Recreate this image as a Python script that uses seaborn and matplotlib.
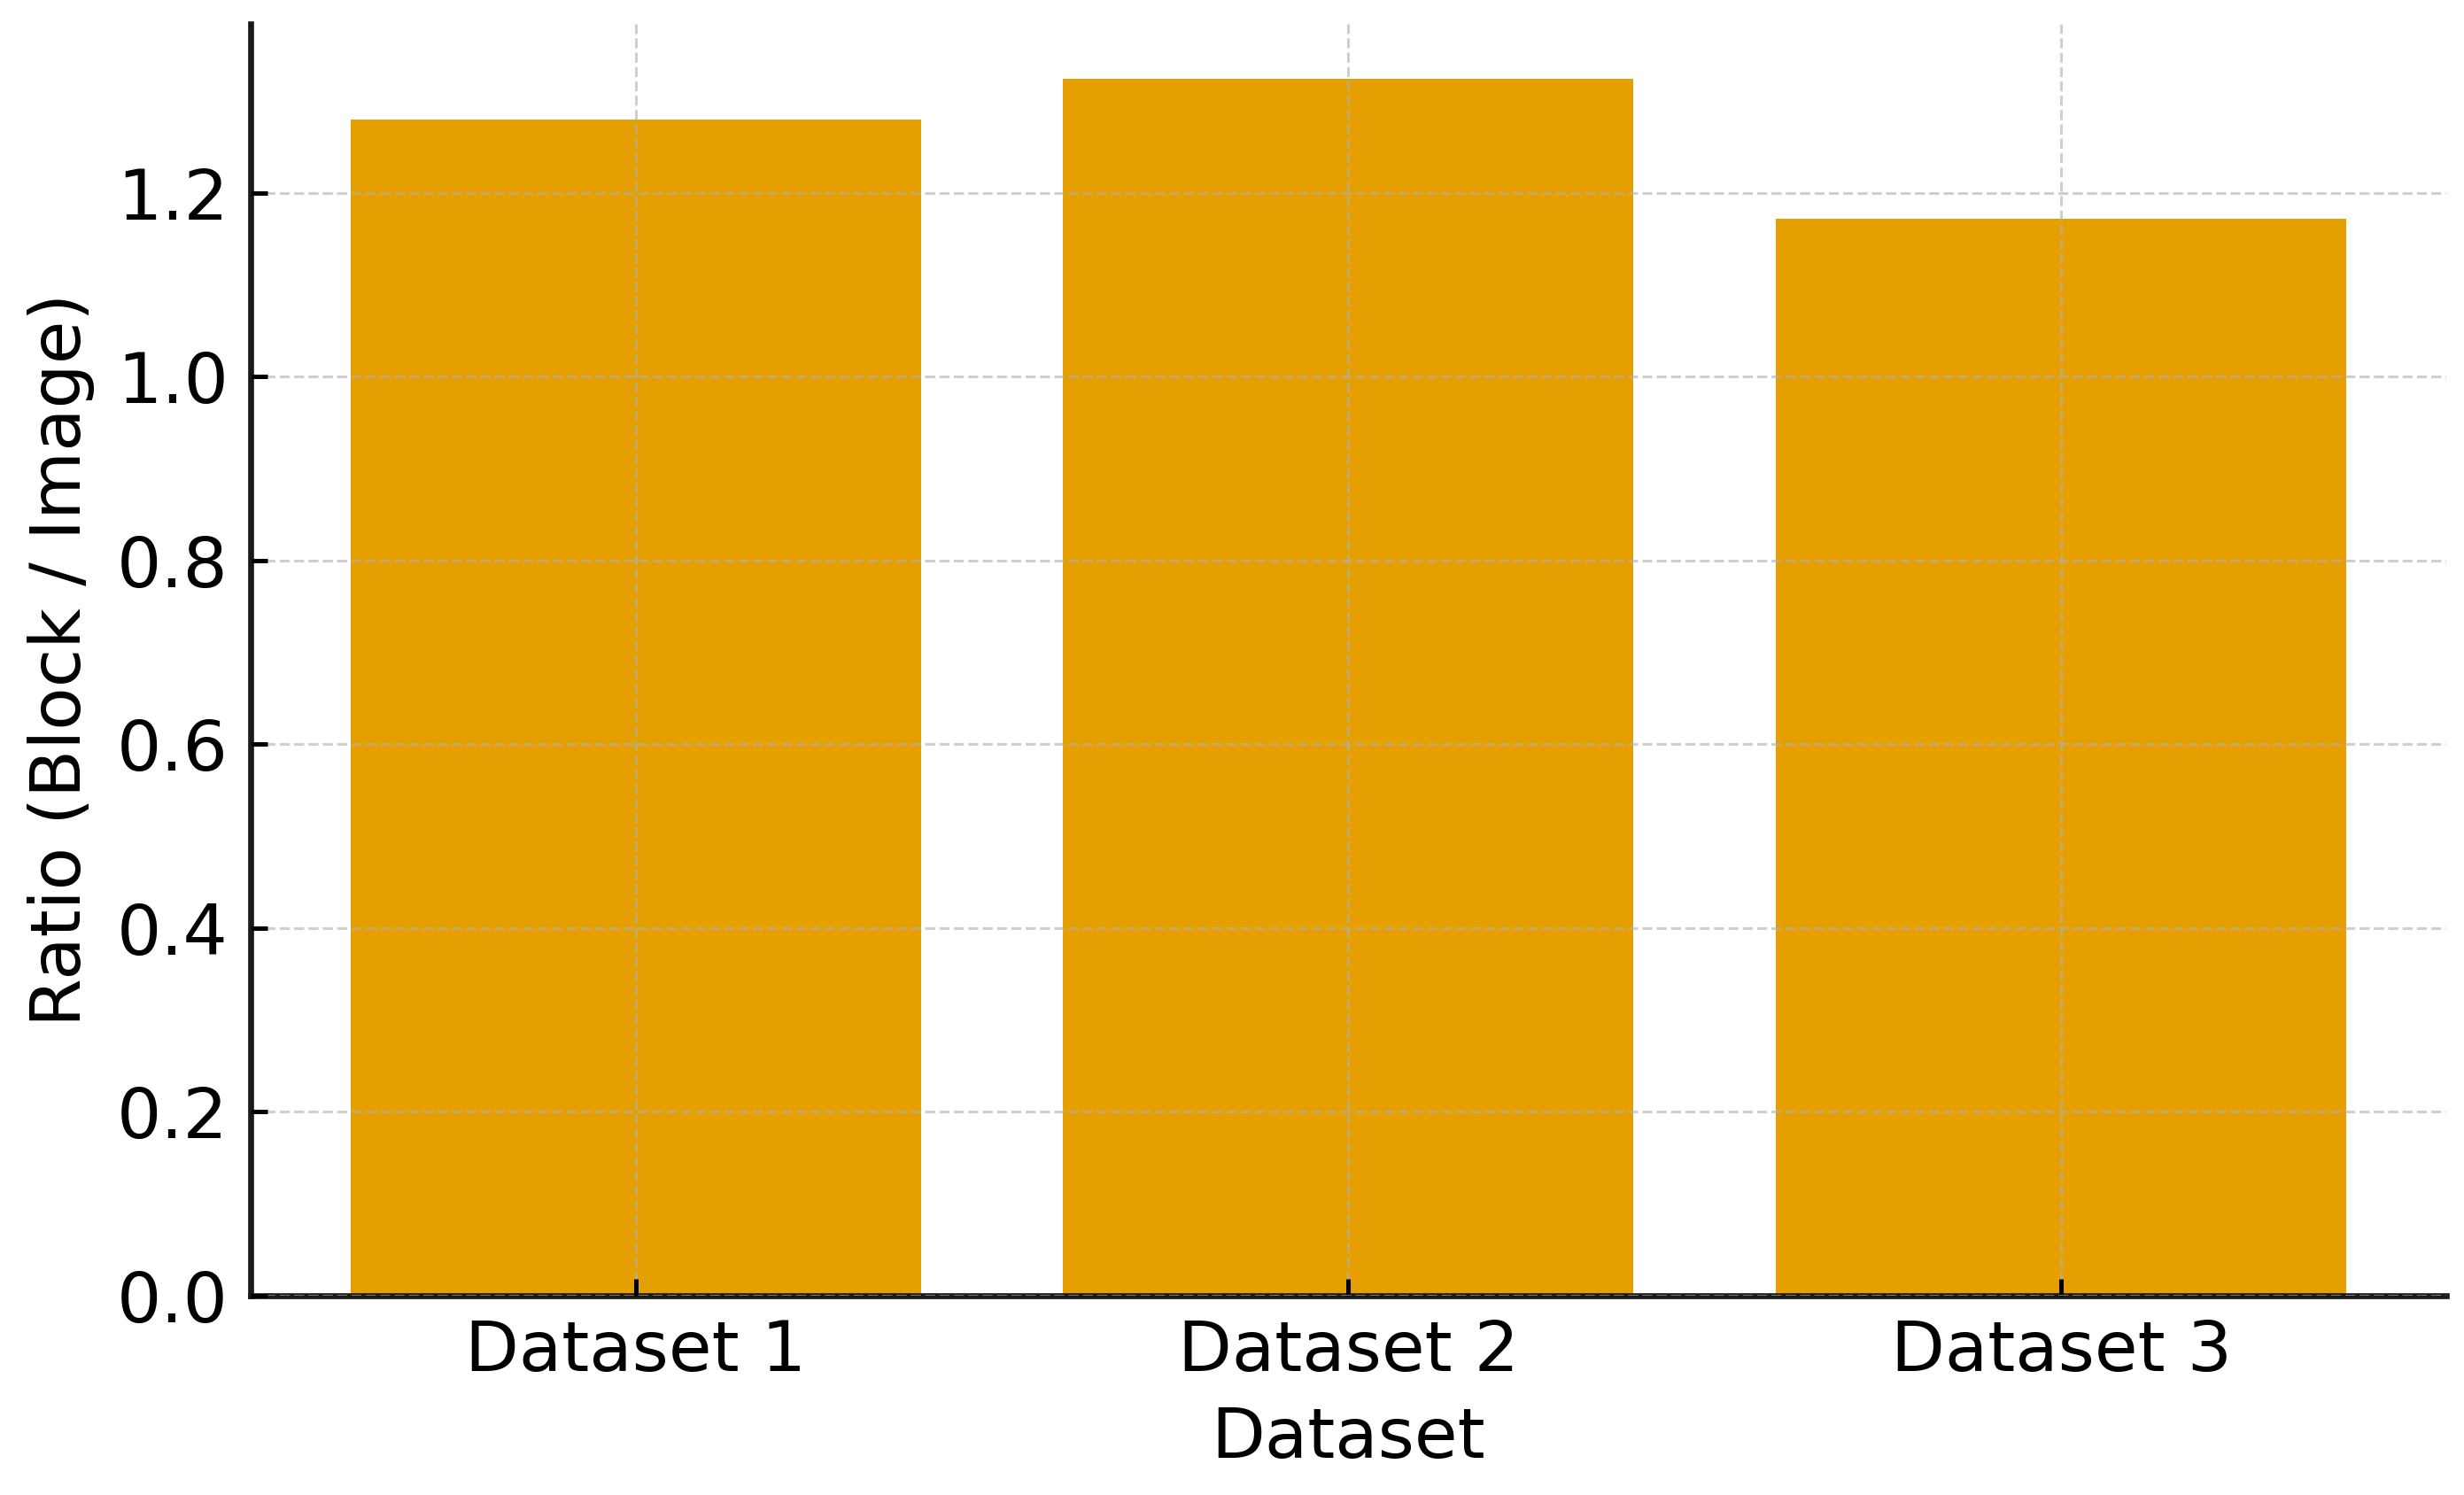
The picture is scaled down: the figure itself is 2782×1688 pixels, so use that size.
import matplotlib
matplotlib.use("Agg")
import matplotlib.pyplot as plt
import seaborn as sns
import pandas as pd

# values
datasets = ["Dataset 1", "Dataset 2", "Dataset 3"]
ratios = [1.28, 1.324, 1.172]
yticks = [0.0, 0.2, 0.4, 0.6, 0.8, 1.0, 1.2]

bar_color = "#E69F00"

df = pd.DataFrame({"Dataset": datasets, "Ratio": ratios})

plt.rcParams["font.family"] = ["DejaVu Sans"]
fs = 28.5

fig = plt.figure(figsize=(13.91, 8.44), dpi=200)
ax = fig.add_axes([0.1017, 0.1333, 0.8911, 0.8507])

sns.barplot(data=df, x="Dataset", y="Ratio", color=bar_color,
            saturation=1, width=0.8, ax=ax, zorder=1)

ax.set_xlim(-0.54, 2.54)
ax.set_ylim(0, max(ratios) * 1.045)
ax.set_yticks(yticks)
ax.set_yticklabels([f"{t:.1f}" for t in yticks])

# grid drawn over the bars, like the reference
ax.grid(True, linestyle="--", color="#b0b0b0", alpha=0.6, linewidth=1.1, zorder=2)
ax.set_axisbelow(False)

for side in ["top", "right"]:
    ax.spines[side].set_visible(False)
for side in ["left", "bottom"]:
    ax.spines[side].set_linewidth(2.4)
    ax.spines[side].set_color("#1a1a1a")

ax.tick_params(direction="in", length=7, width=1.8, labelsize=fs, pad=9)
ax.set_xlabel("Dataset", fontsize=fs, labelpad=8)
ax.set_ylabel("Ratio (Block / Image)", fontsize=fs, labelpad=9)

fig.savefig("out.png", dpi=200)
plt.close(fig)
